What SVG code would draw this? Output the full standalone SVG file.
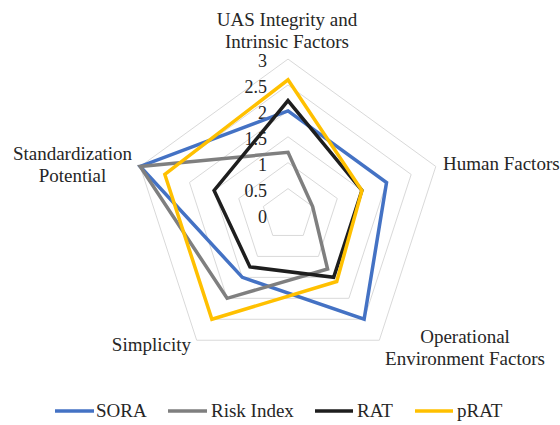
<svg xmlns="http://www.w3.org/2000/svg" width="560" height="425" viewBox="0 0 560 425">
<style>
text{font-family:"Liberation Serif","Times New Roman",serif;fill:#262626}
.cat{font-size:19px}
.tick{font-size:18px;text-anchor:end}
.grid{fill:none;stroke:#d9d9d9;stroke-width:1}
.s{fill:none;stroke-width:3.5;stroke-linejoin:miter}
.sora{stroke:#4472c4}
.risk{stroke:#7f7f7f}
.rat{stroke:#1e1e1e}
.prat{stroke:#ffc000}
</style>
<rect width="560" height="425" fill="#ffffff"/>
<g id="grid">
<polygon class="grid" points="288,188.6 312.63,206.5 303.22,235.45 272.78,235.45 263.37,206.5"/>
<polygon class="grid" points="288,162.7 337.27,198.49 318.45,256.41 257.55,256.41 238.73,198.49"/>
<polygon class="grid" points="288,136.8 361.9,190.49 333.67,277.36 242.33,277.36 214.1,190.49"/>
<polygon class="grid" points="288,110.9 386.53,182.49 348.9,298.31 227.1,298.31 189.47,182.49"/>
<polygon class="grid" points="288,85 411.17,174.48 364.12,319.27 211.88,319.27 164.83,174.48"/>
<polygon class="grid" points="288,59.1 435.8,166.48 379.34,340.22 196.66,340.22 140.2,166.48"/>
</g>
<g id="ticks">
<text class="tick" x="267" y="222.5">0</text>
<text class="tick" x="267" y="196.6">0.5</text>
<text class="tick" x="267" y="170.7">1</text>
<text class="tick" x="267" y="144.8">1.5</text>
<text class="tick" x="267" y="118.9">2</text>
<text class="tick" x="267" y="93">2.5</text>
<text class="tick" x="267" y="67.1">3</text>
</g>
<g id="series">
<polygon id="sora" class="s sora" points="288,110.9 386.53,182.49 364.12,319.27 242.33,277.36 140.2,166.48"/>
<polygon id="risk-index" class="s risk" points="288,152.34 312.63,206.5 327.58,268.98 227.1,298.31 140.2,166.48"/>
<polygon id="rat" class="s rat" points="288,100.54 361.9,190.49 333.67,277.36 249.94,266.88 214.1,190.49"/>
<polygon id="prat" class="s prat" points="288,79.82 361.9,190.49 336.72,281.55 211.88,319.27 164.83,174.48"/>
</g>
<g id="labels" class="cat">
<g id="axis-uas"><text class="cat" x="287" y="26" text-anchor="middle">UAS Integrity and</text><text class="cat" x="287" y="48" text-anchor="middle">Intrinsic Factors</text></g>
<g id="axis-human"><text class="cat" x="443" y="170">Human Factors</text></g>
<g id="axis-oper"><text class="cat" x="465" y="343" text-anchor="middle">Operational</text><text class="cat" x="465" y="365" text-anchor="middle">Environment Factors</text></g>
<g id="axis-simp"><text class="cat" x="191" y="351" text-anchor="end">Simplicity</text></g>
<g id="axis-std"><text class="cat" x="72.5" y="159.5" text-anchor="middle">Standardization</text><text class="cat" x="72.5" y="181.5" text-anchor="middle">Potential</text></g>
</g>
<g id="legend">
<line class="s sora" x1="55" y1="411" x2="94" y2="411"/>
<text class="cat" x="96" y="417">SORA</text>
<line class="s risk" x1="168" y1="411" x2="207" y2="411"/>
<text class="cat" x="211" y="417">Risk Index</text>
<line class="s rat" x1="315" y1="411" x2="353" y2="411"/>
<text class="cat" x="357" y="417">RAT</text>
<line class="s prat" x1="415" y1="411" x2="453" y2="411"/>
<text class="cat" x="457" y="417">pRAT</text>
</g>
</svg>
